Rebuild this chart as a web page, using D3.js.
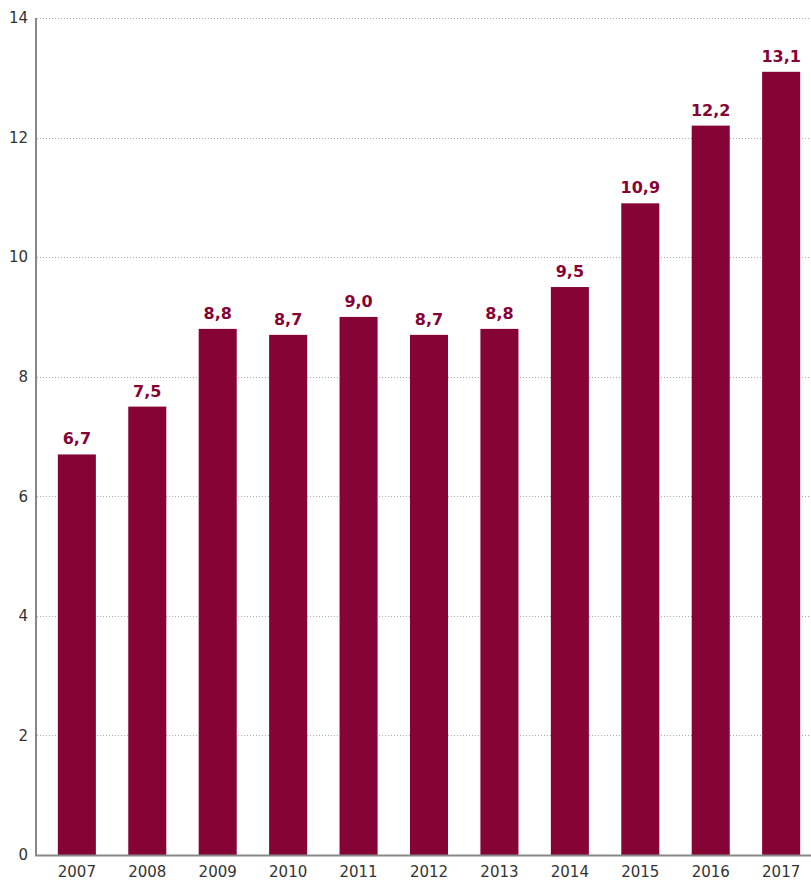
<!DOCTYPE html>
<html><head><meta charset="utf-8">
<script src="https://cdn.jsdelivr.net/npm/d3@7"></script>
<style>body{margin:0;background:#fff}svg{display:block}</style>
</head><body>
<script>
const years = ["2007","2008","2009","2010","2011","2012","2013","2014","2015","2016","2017"];
const values = [6.7,7.5,8.8,8.7,9.0,8.7,8.8,9.5,10.9,12.2,13.1];
const yTicks = [0,2,4,6,8,10,12,14];

const W = 811, H = 882;
const svg = d3.select("body").append("svg").attr("width", W).attr("height", H);
const x = d3.scaleBand().domain(years).range([36, 822]).paddingInner(0.46).paddingOuter(0.31);
const y = d3.scaleLinear().domain([0, 14]).range([855, 18]);

// gridlines
svg.append("g").selectAll("line").data(yTicks.filter(d => d > 0)).join("line")
  .attr("x1", 37).attr("x2", W).attr("y1", d => Math.round(y(d)) + 0.5).attr("y2", d => Math.round(y(d)) + 0.5)
  .attr("stroke", "#a8a8a8").attr("stroke-width", 1).attr("stroke-dasharray", "1,2");

// bars
svg.append("g").selectAll("rect").data(values).join("rect")
  .attr("x", (d, i) => x(years[i])).attr("width", x.bandwidth())
  .attr("y", d => y(d)).attr("height", d => y(0) - y(d))
  .attr("fill", "#860335");

// value labels
svg.append("g").selectAll("text").data(values).join("text")
  .attr("x", (d, i) => x(years[i]) + x.bandwidth() / 2).attr("y", d => y(d) - 10)
  .attr("text-anchor", "middle").attr("fill", "#860335")
  .attr("font-family", "DejaVu Sans").attr("font-weight", "bold").attr("font-size", 16)
  .text(d => d.toFixed(1).replace(".", ","));

// y axis
const yAxis = svg.append("g").attr("transform", "translate(36,0)")
  .call(d3.axisLeft(y).tickValues(yTicks).tickSize(0).tickPadding(8));
yAxis.select(".domain").remove();
yAxis.selectAll("text").attr("font-family", "DejaVu Sans").attr("font-size", 15).attr("fill", "#333");
svg.append("line").attr("x1", 36).attr("x2", 36).attr("y1", 18).attr("y2", 856)
  .attr("stroke", "#888").attr("stroke-width", 2);

// x axis
const xAxis = svg.append("g").attr("transform", "translate(0,855)")
  .call(d3.axisBottom(x).tickSize(0).tickPadding(11));
xAxis.select(".domain").remove();
xAxis.selectAll("text").attr("font-family", "DejaVu Sans").attr("font-size", 15).attr("fill", "#333");
svg.append("line").attr("x1", 35).attr("x2", W).attr("y1", 855.5).attr("y2", 855.5)
  .attr("stroke", "#888").attr("stroke-width", 2);
</script>
</body></html>
